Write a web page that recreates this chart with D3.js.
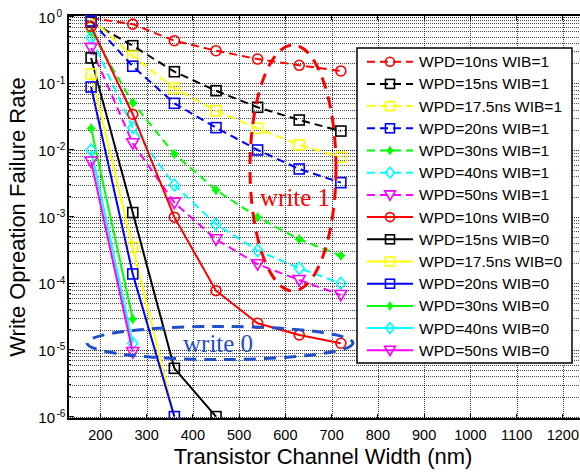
<!DOCTYPE html>
<html><head><meta charset="utf-8">
<script src="https://cdn.jsdelivr.net/npm/d3@7"></script>
<style>html,body{margin:0;padding:0;background:#fff;}svg{display:block;font-family:"Liberation Sans",Arial,sans-serif;}</style>
</head><body>
<svg id="c" width="580" height="472"></svg>
<script>
// ---- data ----
const widths = [180, 270, 360, 450, 540, 630, 720];
const xTicks = [200, 300, 400, 500, 600, 700, 800, 900, 1000, 1100, 1200];
const yTickExps = [0, -1, -2, -3, -4, -5, -6];
const legendLabels = [
  "WPD=10ns WIB=1", "WPD=15ns WIB=1", "WPD=17.5ns WIB=1", "WPD=20ns WIB=1",
  "WPD=30ns WIB=1", "WPD=40ns WIB=1", "WPD=50ns WIB=1",
  "WPD=10ns WIB=0", "WPD=15ns WIB=0", "WPD=17.5ns WIB=0", "WPD=20ns WIB=0",
  "WPD=30ns WIB=0", "WPD=40ns WIB=0", "WPD=50ns WIB=0"];
const wpd10_wib1  = [0.95, 0.77, 0.435, 0.308, 0.231, 0.186, 0.153];
const wpd15_wib1  = [0.83, 0.366, 0.149, 0.0774, 0.0436, 0.0281, 0.0192];
const wpd175_wib1 = [0.94, 0.256, 0.084, 0.0388, 0.0211, 0.0119, 0.0078];
const wpd20_wib1  = [0.86, 0.18, 0.05, 0.0216, 0.00998, 0.00518, 0.00323];
const wpd30_wib1  = [0.59, 0.051, 0.0087, 0.0025, 0.00098, 0.000457, 0.00026];
const wpd40_wib1  = [0.48, 0.0216, 0.00298, 0.00077, 0.00031, 0.000168, 0.0001];
const wpd50_wib1  = [0.34, 0.0126, 0.00162, 0.000457, 0.000193, 0.000112, 0.0000667];
const wpd10_wib0  = [0.71, 0.0343, 0.00098, 0.0000774, 0.0000251, 0.0000168, 0.0000126];
const wpd15_wib0  = [0.24, 0.00115, 0.0000053, 0.000001];
const wpd175_wib0 = [0.138, 0.000347, 0.000001];
const wpd20_wib0  = [0.088, 0.000138, 0.000001];
const wpd30_wib0  = [0.0211, 0.0000291];
const wpd40_wib0  = [0.00998, 0.0000126];
const wpd50_wib0  = [0.0067, 0.0000093];
const seriesValues = [wpd10_wib1, wpd15_wib1, wpd175_wib1, wpd20_wib1, wpd30_wib1, wpd40_wib1, wpd50_wib1,
  wpd10_wib0, wpd15_wib0, wpd175_wib0, wpd20_wib0, wpd30_wib0, wpd40_wib0, wpd50_wib0];
const annotations = ["write 1", "write 0"];
const xTitle = "Transistor Channel Width (nm)";
const yTitle = "Write Opreation Failure Rate";

// ---- styles ----
const colors = ["#ff0000", "#000000", "#ffff00", "#0000ff", "#00ff00", "#00ffff", "#ff00ff"];
const markers = ["circle", "square", "square", "square", "star", "diamond", "triangle"];

const svg = d3.select("#c");
const L = 68, R = 586, T = 15, B = 419;
const x = d3.scaleLinear().domain([130, 1250]).range([L, R]);
const y = d3.scaleLog().domain([1e-6, 1]).range([416.6, 16.6]);

svg.append("rect").attr("width", 580).attr("height", 472).attr("fill", "#fff");
const defs = svg.append("defs");
defs.append("clipPath").attr("id", "pc").append("rect").attr("x", L).attr("y", T).attr("width", R - L).attr("height", B - T);

// grid
const g = svg.append("g");
const minor = [];
for (let e = -6; e <= 0; e++) for (let k = 1; k <= 9; k++) { const v = k * Math.pow(10, e); if (v <= 1.06 && v >= 0.9e-6) minor.push(v); }
const isMaj = v => Math.abs(Math.log10(v) - Math.round(Math.log10(v))) < 1e-6;
g.selectAll(".hg").data(minor).join("line")
  .attr("x1", L).attr("x2", R).attr("y1", d => Math.round(y(d)) + 0.5).attr("y2", d => Math.round(y(d)) + 0.5)
  .attr("stroke", "#000").attr("stroke-opacity", d => isMaj(d) ? 0.85 : 0.7)
  .attr("stroke-width", 1).attr("stroke-dasharray", "1,1");
g.selectAll(".vg").data(xTicks).join("line")
  .attr("x1", d => Math.round(x(d)) + 0.5).attr("x2", d => Math.round(x(d)) + 0.5).attr("y1", T).attr("y2", B)
  .attr("stroke", "#000").attr("stroke-opacity", 0.75).attr("stroke-width", 1).attr("stroke-dasharray", "1,1");

// ticks
const tk = svg.append("g").attr("stroke", "#000").attr("stroke-width", 1).attr("shape-rendering", "crispEdges");
xTicks.forEach(v => {
  tk.append("line").attr("x1", x(v)).attr("x2", x(v)).attr("y1", B).attr("y2", B - 5);
  tk.append("line").attr("x1", x(v)).attr("x2", x(v)).attr("y1", T).attr("y2", T + 5);
});
minor.forEach(v => {
  tk.append("line").attr("x1", L).attr("x2", L + (isMaj(v) ? 6 : 3)).attr("y1", y(v)).attr("y2", y(v));
});

// frame
svg.append("rect").attr("x", L).attr("y", T).attr("width", R - L).attr("height", B - T)
  .attr("fill", "none").attr("stroke", "#000").attr("stroke-width", 2);

// tick labels
svg.append("g").selectAll("text").data(xTicks).join("text")
  .attr("x", d => x(d)).attr("y", 440).attr("text-anchor", "middle").attr("font-size", "14.5px").attr("fill", "#000").text(d => d);
const yl = svg.append("g");
yTickExps.forEach(e => {
  const yy = y(Math.pow(10, e));
  yl.append("text").attr("x", 55).attr("y", yy + 6).attr("text-anchor", "end").attr("font-size", "15px").text("10");
  yl.append("text").attr("x", 56.5).attr("y", yy + 0.5).attr("text-anchor", "start").attr("font-size", "10px").text(String(e));
});

// axis titles
svg.append("text").attr("x", 323).attr("y", 464).attr("text-anchor", "middle").attr("font-size", "22px").text(xTitle);
svg.append("text").attr("transform", "translate(25,217) rotate(-90)").attr("text-anchor", "middle").attr("font-size", "22px").text(yTitle);

// marker drawing
function drawMarker(sel, type, color, cx, cy, s) {
  s = s || 1;
  if (type === "circle") sel.append("circle").attr("cx", cx).attr("cy", cy).attr("r", 5 * s).attr("fill", "none").attr("stroke", color).attr("stroke-width", 1.6);
  else if (type === "square") sel.append("rect").attr("x", cx - 5 * s).attr("y", cy - 5 * s).attr("width", 10 * s).attr("height", 10 * s).attr("fill", "none").attr("stroke", color).attr("stroke-width", 1.6);
  else if (type === "diamond") sel.append("path").attr("d", `M${cx},${cy - 6 * s}L${cx + 5 * s},${cy}L${cx},${cy + 6 * s}L${cx - 5 * s},${cy}Z`).attr("fill", "none").attr("stroke", color).attr("stroke-width", 1.6);
  else if (type === "triangle") sel.append("path").attr("d", `M${cx - 6 * s},${cy - 4.5 * s}L${cx + 6 * s},${cy - 4.5 * s}L${cx},${cy + 6 * s}Z`).attr("fill", "none").attr("stroke", color).attr("stroke-width", 1.6);
  else if (type === "star") {
    sel.append("path").attr("d", `M${cx},${cy - 4 * s}L${cx + 3.5 * s},${cy}L${cx},${cy + 4 * s}L${cx - 3.5 * s},${cy}Z`).attr("fill", color).attr("stroke", color).attr("stroke-width", 1);
    sel.append("path").attr("d", `M${cx - 4.5 * s},${cy}H${cx + 4.5 * s}M${cx},${cy - 5 * s}V${cy + 5 * s}`).attr("stroke", color).attr("stroke-width", 1.2);
  }
}

// series
const line = d3.line().x(d => x(d[0])).y(d => y(d[1]));
const plot = svg.append("g").attr("clip-path", "url(#pc)");
seriesValues.forEach((vals, i) => {
  const c = colors[i % 7], m = markers[i % 7], dashed = i < 7;
  const pts = vals.map((v, j) => [widths[j], v]);
  plot.append("path").attr("d", line(pts)).attr("fill", "none").attr("stroke", c).attr("stroke-width", 2)
    .attr("stroke-dasharray", dashed ? "8,5" : null);
  const mg = plot.append("g");
  pts.forEach(p => drawMarker(mg, m, c, x(p[0]), y(p[1])));
});

// annotations
svg.append("ellipse").attr("cx", 293).attr("cy", 168).attr("rx", 43).attr("ry", 123)
  .attr("fill", "none").attr("stroke", "#ff0000").attr("stroke-width", 3).attr("stroke-dasharray", "12,8");
svg.append("ellipse").attr("cx", 220).attr("cy", 343).attr("rx", 133).attr("ry", 16.5)
  .attr("fill", "none").attr("stroke", "#1f4fcc").attr("stroke-width", 3).attr("stroke-dasharray", "12,8");
svg.append("text").attr("x", 260).attr("y", 206).attr("font-family", "'Liberation Serif','Times New Roman',serif").attr("font-size", "25px").attr("fill", "#ff0000").text(annotations[0]);
svg.append("text").attr("x", 183).attr("y", 352).attr("font-family", "'Liberation Serif','Times New Roman',serif").attr("font-size", "25px").attr("fill", "#1f4fcc").text(annotations[1]);

// legend
const lg = svg.append("g");
lg.append("rect").attr("x", 357).attr("y", 48).attr("width", 215).attr("height", 315).attr("fill", "#fff").attr("stroke", "#000").attr("stroke-width", 1.5);
legendLabels.forEach((lab, i) => {
  const yy = 61.7 + i * 22.2, c = colors[i % 7], m = markers[i % 7];
  lg.append("line").attr("x1", 367).attr("x2", 413).attr("y1", yy).attr("y2", yy).attr("stroke", c).attr("stroke-width", 2)
    .attr("stroke-dasharray", i < 7 ? "8,5" : null);
  drawMarker(lg, m, c, 390, yy, 0.9);
  lg.append("text").attr("x", 419).attr("y", yy + 5.5).attr("font-size", "15.5px").attr("fill", "#000").text(lab);
});
</script>
</body></html>
